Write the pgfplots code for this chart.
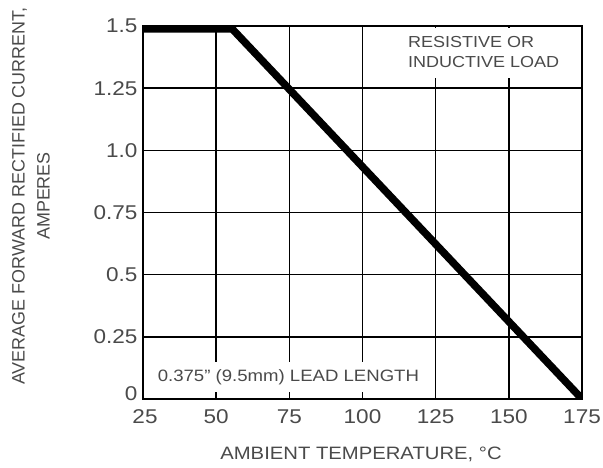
\documentclass[border=0pt]{standalone}
\usepackage{fontspec}
\setmainfont{Liberation Sans}[FakeStretch=1.13]
\newfontfamily\plainfont{Liberation Sans}
\usepackage{pgfplots}
\pgfplotsset{compat=1.18}
\definecolor{txt}{HTML}{4A4A4A}
\begin{document}
\begin{tikzpicture}[x=1bp,y=1bp]
\path[use as bounding box] (0,0) rectangle (603,468);
\begin{axis}[
  at={(143bp,69bp)}, anchor=south west,
  scale only axis, width=439bp, height=373bp,
  xmin=25, xmax=175, ymin=0, ymax=1.5,
  xtick={25,50,75,100,125,150,175},
  ytick={0,0.25,0.5,0.75,1.0,1.25,1.5},
  yticklabels={\raisebox{10bp}{0},0.25,0.5,0.75,1.0,1.25,1.5},
  xticklabels={\hspace*{4bp}25,50,75,100,125,150,175},
  grid=major,
  major grid style={black, line width=1.6bp},
  axis line style={black, line width=1.8bp},
  major tick length=0pt,
  /pgf/number format/assume math mode=true,
  tick label style={font=\fontsize{20}{22}\selectfont, text=txt},
  xticklabel style={yshift=-7bp},
  yticklabel style={xshift=-2bp},
]
\fill[white] (axis cs:101,1.29) rectangle (axis cs:174.3,1.493);
\fill[white] (axis cs:25.7,0.028) rectangle (axis cs:124,0.149);
\node[anchor=west, align=left, text=txt, font=\fontsize{16}{20}\selectfont, inner sep=0pt]
  at (axis cs:115.5,1.395) {RESISTIVE OR\\INDUCTIVE LOAD};
\node[anchor=west, text=txt, font=\fontsize{16.5}{20}\selectfont, inner sep=0pt]
  at (axis cs:30,0.089) {0.375" (9.5mm) LEAD LENGTH};
\addplot[black, line width=7.5bp] coordinates {(25,1.488) (55.5,1.488) (175,0)};
\end{axis}
\node[text=txt, font=\fontsize{18}{20}\selectfont] at (361,14) {AMBIENT TEMPERATURE, °C};
\node[rotate=90, align=center, text=txt, font=\plainfont\fontsize{18}{25}\selectfont] at (31,272)
  {AVERAGE FORWARD RECTIFIED CURRENT,\\AMPERES};
\end{tikzpicture}
\end{document}
